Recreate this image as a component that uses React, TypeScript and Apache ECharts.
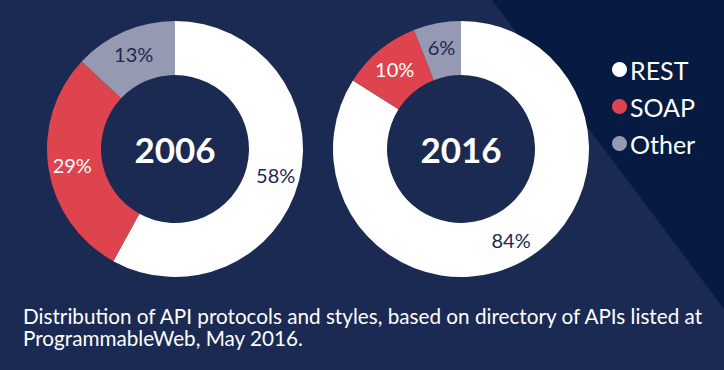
import React, { useEffect, useRef } from "react";
import * as echarts from "echarts";

const categories = ["REST", "SOAP", "Other"];
const years = ["2006", "2016"];
const shares2006 = [58, 29, 13];
const shares2016 = [84, 10, 6];
const caption =
  "Distribution of API protocols and styles, based on directory of APIs listed at\nProgrammableWeb, May 2016.";

const NAVY = "#1b2a52";
const DARK = "#071a41";
const sliceColors = ["#ffffff", "#de444d", "#9599b2"];
const labelColors = [NAVY, "#ffffff", NAVY];
const FONT = "Lato, 'Open Sans', sans-serif";

export default function App() {
  const ref = useRef<HTMLDivElement>(null);
  useEffect(() => {
    if (!ref.current) return;
    const chart = echarts.init(ref.current, undefined, { renderer: "svg" });
    const centers = [
      [175, 149],
      [461, 149],
    ];
    const makeSeries = (year: string, shares: number[], center: number[]) => ({
      type: "pie",
      name: year,
      center,
      radius: [74, 128],
      startAngle: 90,
      clockwise: true,
      avoidLabelOverlap: false,
      labelLine: { show: false },
      emphasis: { disabled: true },
      itemStyle: { borderWidth: 0 },
      label: {
        show: true,
        position: "inside",
        formatter: "{c}%",
        fontFamily: FONT,
        fontSize: 20,
        fontWeight: 400,
      },
      data: categories.map((c, i) => ({
        name: c,
        value: shares[i],
        itemStyle: { color: sliceColors[i] },
        label: { color: labelColors[i] },
      })),
    });
    chart.setOption({
      animation: false,
      backgroundColor: NAVY,
      legend: {
        orient: "vertical",
        left: 607,
        top: 52,
        icon: "circle",
        itemWidth: 15,
        itemHeight: 15,
        itemGap: 12,
        selectedMode: false,
        data: categories,
        textStyle: {
          color: "#ffffff",
          fontFamily: FONT,
          fontSize: 25,
          lineHeight: 25,
          padding: [0, 0, 0, -2],
        },
      },
      graphic: [
        {
          type: "polygon",
          z: -100,
          silent: true,
          shape: { points: [[492, 0], [724, 0], [724, 309]] },
          style: { fill: DARK },
        },
        ...years.map((y, i) => ({
          type: "text",
          z: 100,
          x: centers[i][0],
          y: centers[i][1],
          silent: true,
          style: {
            text: y,
            fill: "#ffffff",
            font: `bold 35px ${FONT}`,
            align: "center",
            verticalAlign: "middle",
          },
        })),
        {
          type: "text",
          z: 100,
          x: 23,
          y: 305,
          silent: true,
          style: {
            text: caption,
            fill: "#ffffff",
            font: `20.7px ${FONT}`,
            lineHeight: 22,
            align: "left",
            verticalAlign: "top",
          },
        },
      ],
      series: [
        makeSeries(years[0], shares2006, centers[0]),
        makeSeries(years[1], shares2016, centers[1]),
      ],
    });
    return () => chart.dispose();
  }, []);
  return (
    <div
      ref={ref}
      style={{ position: "fixed", left: 0, top: 0, width: 724, height: 370 }}
    />
  );
}
